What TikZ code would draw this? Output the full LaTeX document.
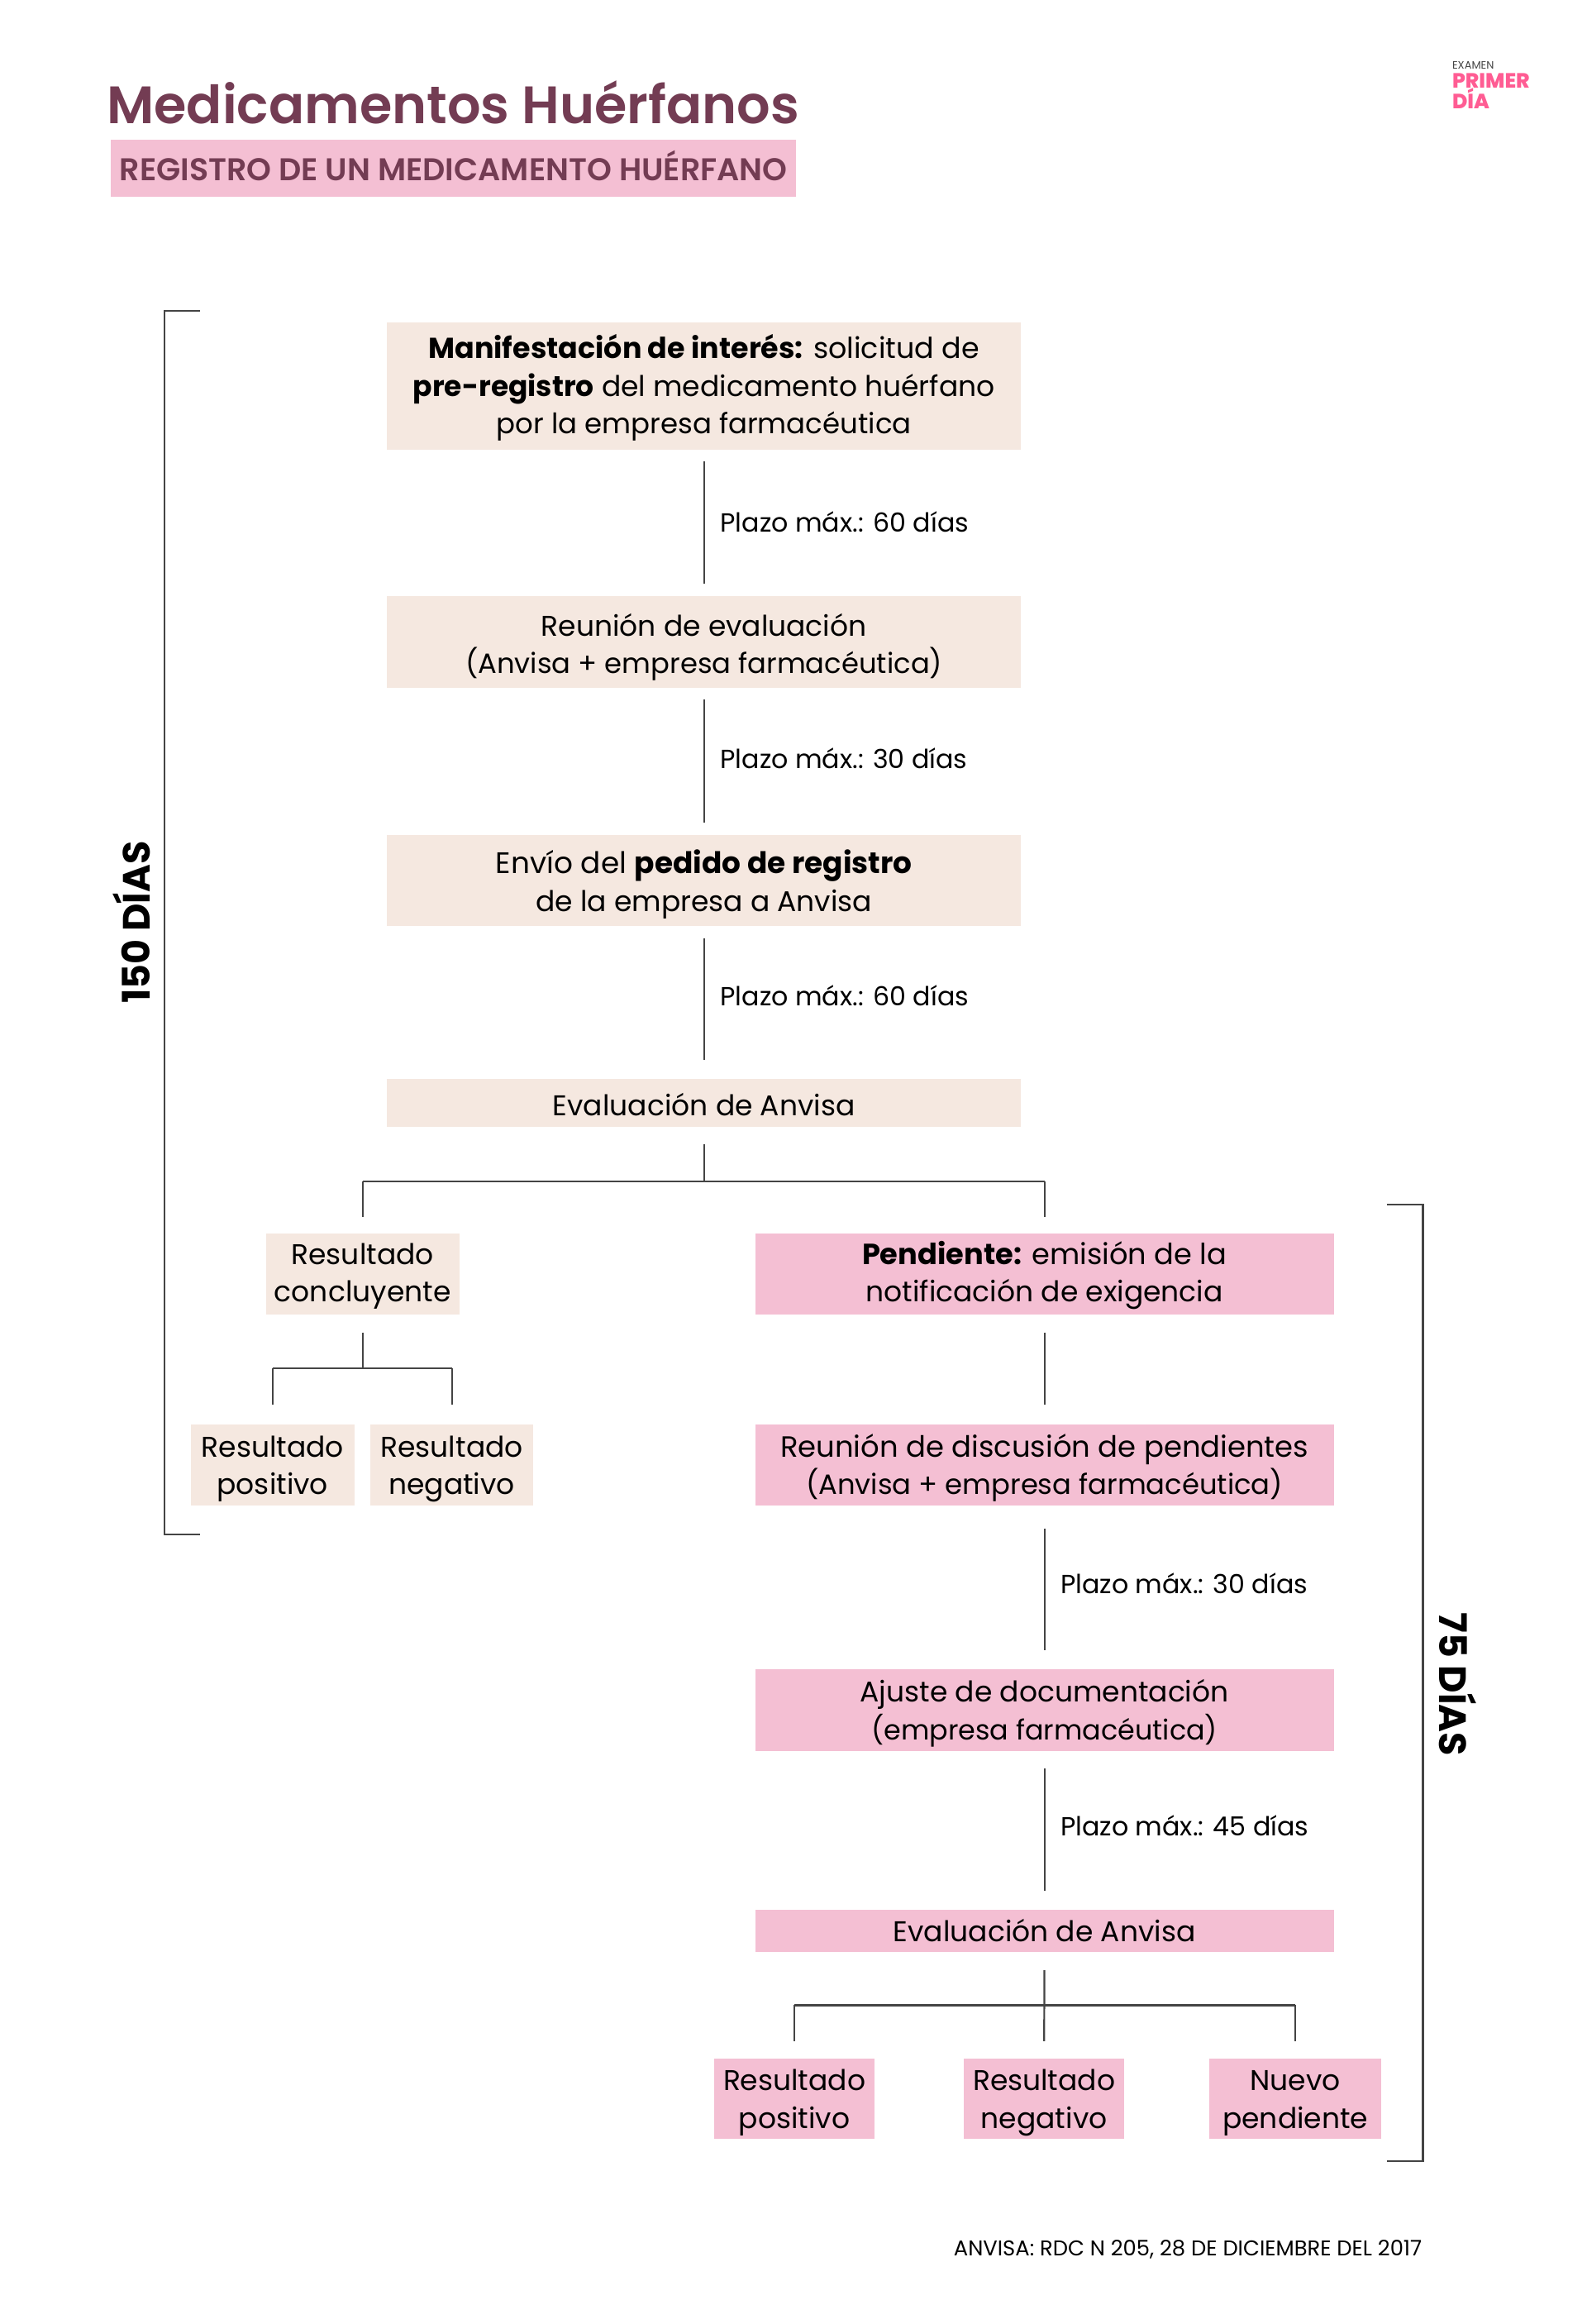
\documentclass[tikz,border=0pt]{standalone}
\usepackage{fontspec}
\setmainfont{Poppins}
\newfontfamily\psemi{Poppins SemiBold}
\newfontfamily\pxbold{Poppins ExtraBold}
\definecolor{pinkbox}{HTML}{F4BFD3}
\definecolor{beigebox}{HTML}{F5E8E0}
\definecolor{titlec}{HTML}{733C53}
\definecolor{logoc}{HTML}{FF5C93}
\definecolor{linec}{HTML}{444444}
\newcommand{\bfx}[1]{{\bfseries #1}}
\newcommand{\fs}[2]{{\fontsize{#1}{45.5}\selectfont #2}}
\newcommand{\dy}{-3.8pt}
\newcommand{\tx}[1]{\raisebox{\dy}[\height][\depth]{\begin{tabular}{@{}c@{}}#1\end{tabular}}}
\newcommand{\bx}[8][-3.8pt]{\renewcommand{\dy}{#1}\node[#7, minimum width={((#5)-(#3))*1.0085}, minimum height={((#6)-(#4))*1.0085}] (#2) at ({((#3)+(#5))/2},{((#4)+(#6))/2}) {\tx{#8}};}
\tikzset{
 x=1.0085pt,y=-1.0085pt,
 boxbase/.style={inner sep=0pt, text=black, font=\fontsize{34.5}{45.5}\selectfont},
 beige/.style={boxbase, fill=beigebox},
 rosa/.style={boxbase, fill=pinkbox},
 conn/.style={draw=linec, line width=2.2pt},
 lab/.style={anchor=west, inner sep=0pt, font=\fontsize{31.7}{36}\selectfont, text=black},
 bigl/.style={inner sep=0pt, font=\bfseries\fontsize{46}{50}\selectfont, text=black}
}
\begin{document}
\begin{tikzpicture}
\useasboundingbox (0,0) rectangle (1903.8,2787.3);
\node[anchor=base west, inner sep=0pt, text=titlec, font=\psemi\fontsize{63.7}{70}\selectfont] (title) at (128,148) {Medicamentos Huérfanos};
\bx{sub}{133}{168}{955}{236}{rosa}{\color{titlec}\psemi\fontsize{38}{44}\selectfont REGISTRO DE UN MEDICAMENTO HUÉRFANO}
\node[anchor=base west, inner sep=0pt, text=linec, font=\fontsize{13}{14}\selectfont] (lg1) at (1742,83) {EXAMEN};
\node[anchor=base west, inner sep=0pt, text=logoc, font=\pxbold\fontsize{25}{28}\selectfont] (lg2) at (1742,106) {PRIMER};
\node[anchor=base west, inner sep=0pt, text=logoc, font=\pxbold\fontsize{25}{28}\selectfont] (lg3) at (1742,130) {DÍA};

\bx[-3pt]{a}{464}{387}{1225}{539}{beige}{\fs{34.9}{\bfx{Manifestación de interés:} solicitud de}\\\bfx{pre-registro} del medicamento huérfano\\\fs{34}{por la empresa farmacéutica}}
\bx[-6.5pt]{b}{464}{715}{1225}{825}{beige}{Reunión de evaluación\\\fs{33.8}{(Anvisa + empresa farmacéutica)}}
\bx[-5.5pt]{c}{464}{1001}{1225}{1111}{beige}{\fs{35.9}{Envío del \bfx{pedido de registro}}\\de la empresa a Anvisa}
\bx[-7pt]{d}{464}{1294}{1225}{1351}{beige}{Evaluación de Anvisa}
\bx[-2pt]{e}{319}{1479}{551}{1577}{beige}{Resultado\\concluyente}
\bx{f}{229}{1708}{425}{1806}{beige}{Resultado\\positivo}
\bx{g}{444}{1708}{640}{1806}{beige}{Resultado\\negativo}
\bx[-2pt]{h}{906}{1479}{1600}{1577}{rosa}{\fs{35.2}{\bfx{Pendiente:} emisión de la}\\notificación de exigencia}
\bx{i}{906}{1708}{1600}{1806}{rosa}{\fs{35.4}{Reunión de discusión de pendientes}\\\fs{33.8}{(Anvisa + empresa farmacéutica)}}
\bx{j}{906}{2002}{1600}{2100}{rosa}{Ajuste de documentación\\\fs{33.4}{(empresa farmacéutica)}}
\bx{k}{906}{2290}{1600}{2341}{rosa}{Evaluación de Anvisa}
\bx{l}{857}{2469}{1049}{2565}{rosa}{Resultado\\positivo}
\bx{m}{1156}{2469}{1349}{2565}{rosa}{Resultado\\negativo}
\bx{n}{1451}{2469}{1657}{2565}{rosa}{Nuevo\\pendiente}

\draw[conn, shorten <=14pt, shorten >=15pt] (a.south) -- (b.north);
\draw[conn, shorten <=14pt, shorten >=14pt] (b.south) -- (c.north);
\draw[conn, shorten <=14pt, shorten >=23pt] (c.south) -- (d.north);
\coordinate (jd) at (844.5,1417);
\draw[conn, shorten <=21pt] (d.south) -- (jd);
\draw[conn, shorten >=19pt] (jd -| e.north) -- (e.north);
\draw[conn, shorten >=19pt] (jd -| h.north) -- (h.north);
\draw[conn] (jd -| e.north) -- (jd -| h.north);
\coordinate (je2) at (435,1641);
\draw[conn, shorten <=21pt] (e.south) -- (je2);
\draw[conn] (je2 -| f.north) -- (je2 -| g.north);
\draw[conn, shorten >=23pt] (je2 -| f.north) -- (f.north);
\draw[conn, shorten >=23pt] (je2 -| g.north) -- (g.north);
\draw[conn, shorten <=21pt, shorten >=23pt] (h.south) -- (i.north);
\draw[conn, shorten <=27pt, shorten >=23pt] (i.south) -- (j.north);
\draw[conn, shorten <=21pt, shorten >=22pt] (j.south) -- (k.north);
\coordinate (jk) at (1253,2405);
\draw[conn, shorten <=22pt, shorten >=21pt] (k.south) -- (m.north);
\draw[conn] (jk -| l.north) -- (jk -| n.north);
\draw[conn, shorten >=21pt] (jk -| l.north) -- (l.north);
\draw[conn, shorten >=21pt] (jk -| n.north) -- (n.north);

\coordinate (b1) at (240,373); \coordinate (b2) at (197,373); \coordinate (b3) at (197,1840); \coordinate (b4) at (240,1840);
\draw[conn] (b1) -- (b2) -- (b3) -- (b4);
\coordinate (r1) at (1664,1445); \coordinate (r2) at (1707,1445); \coordinate (r3) at (1707,2592); \coordinate (r4) at (1664,2592);
\draw[conn] (r1) -- (r2) -- (r3) -- (r4);
\node[bigl, rotate=90] (d150) at (158,1106) {150 DÍAS};
\node[bigl, rotate=-90] (d75) at (1749,2020) {75 DÍAS};

\node[lab] (p1) at (864,625.5) {Plazo máx.: 60 días};
\node[lab] (p2) at (864,909.5) {Plazo máx.: 30 días};
\node[lab] (p3) at (864,1194.5) {Plazo máx.: 60 días};
\node[lab] (p4) at (1272,1899.5) {Plazo máx.: 30 días};
\node[lab] (p5) at (1272,2189.5) {Plazo máx.: 45 días};
\node[anchor=base east, inner sep=0pt, text=black, font=\fontsize{25.8}{28}\selectfont] (src) at (1706,2705) {ANVISA: RDC N 205, 28 DE DICIEMBRE DEL 2017};
\end{tikzpicture}
\end{document}
